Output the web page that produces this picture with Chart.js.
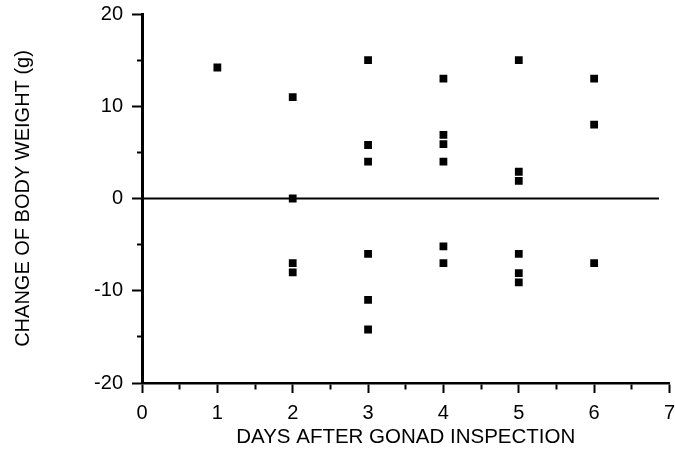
<!DOCTYPE html>
<html><head><meta charset="utf-8">
<script src="https://cdn.jsdelivr.net/npm/chart.js@4"></script>
<style>html,body{margin:0;padding:0;background:#fff;}canvas{display:block;}</style>
</head><body>
<canvas id="c" width="675" height="463"></canvas>
<script>
// Data
const days = [1, 2, 2, 2, 2, 3, 3, 3, 3, 3, 3, 4, 4, 4, 4, 4, 4, 5, 5, 5, 5, 5, 5, 6, 6, 6];
const weightChange = [14.2, 11, 0, -7, -8, 15, 5.8, 4, -6, -11, -14.2, 13, 6.9, 5.9, 4, -5.2, -7, 15, 2.9, 1.9, -6, -8.1, -9.1, 13, 8, -7];
const zeroLineDays = [0, 6.86];
const zeroLineValues = [0, 0];
const xTickLabels = [0, 1, 2, 3, 4, 5, 6, 7];
const yTickLabels = [-20, -10, 0, 10, 20];

const FONT = "'Liberation Sans', Arial, Helvetica, sans-serif";

new Chart(document.getElementById('c'), {
  type: 'scatter',
  data: {
    datasets: [
      {
        label: 'Change of body weight',
        data: days.map((d, i) => ({x: d, y: weightChange[i]})),
        pointStyle: 'rect',
        pointRadius: 5.5,
        pointBorderWidth: 0,
        backgroundColor: '#000',
        borderColor: '#000'
      },
      {
        type: 'line',
        label: 'zero',
        data: zeroLineDays.map((d, i) => ({x: d, y: zeroLineValues[i]})),
        borderColor: '#000',
        borderWidth: 2,
        pointRadius: 0,
        fill: false
      }
    ]
  },
  options: {
    responsive: false,
    animation: false,
    devicePixelRatio: 1,
    layout: {padding: {left: 0, top: 14, right: 2, bottom: 0}},
    plugins: {legend: {display: false}, tooltip: {enabled: false}},
    scales: {
      x: {
        type: 'linear',
        min: 0, max: 7,
        afterFit: s => { s.height = 80; s.paddingLeft = 0; s.paddingRight = 0; },
        border: {display: true, color: '#000', width: 2.5},
        grid: {
          drawOnChartArea: false, drawTicks: true, tickLength: 10, tickWidth: 2, tickColor: '#000',
          tickBorderDash: ctx => (ctx.tick && xTickLabels.includes(ctx.tick.value)) ? [] : [5, 20]
        },
        ticks: {
          stepSize: 0.5, autoSkip: false, maxRotation: 0, padding: 8, color: '#000',
          font: {family: FONT, size: 20},
          callback: v => xTickLabels.includes(v) ? String(v) : ''
        },
        title: {display: true, text: 'DAYS AFTER GONAD INSPECTION', color: '#000',
          font: {family: FONT, size: 20.5}, padding: {top: 0, bottom: 13}}
      },
      y: {
        type: 'linear',
        min: -20, max: 20,
        afterFit: s => { s.width = 142; s.paddingTop = 0; s.paddingBottom = 0; },
        border: {display: true, color: '#000', width: 3},
        grid: {
          drawOnChartArea: false, drawTicks: true, tickLength: 10, tickWidth: 2, tickColor: '#000',
          tickBorderDash: ctx => (ctx.tick && yTickLabels.includes(ctx.tick.value)) ? [] : [5, 5],
          tickBorderDashOffset: ctx => (ctx.tick && yTickLabels.includes(ctx.tick.value)) ? 0 : 5
        },
        ticks: {
          stepSize: 5, autoSkip: false, padding: 9, color: '#000',
          font: {family: FONT, size: 20},
          callback: v => yTickLabels.includes(v) ? String(v) : ''
        },
        title: {display: true, text: 'CHANGE OF BODY WEIGHT (g)', color: '#000',
          font: {family: FONT, size: 20}, padding: {top: 11, bottom: 0}}
      }
    }
  }
});
</script>
</body></html>
